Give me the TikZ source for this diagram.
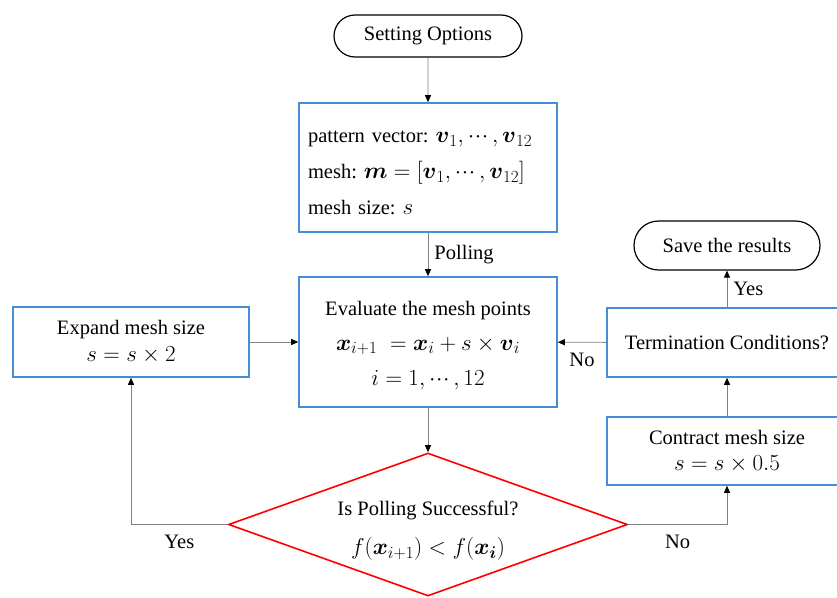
\RequirePackage{fix-cm}
\documentclass[tikz,border=0pt]{standalone}
\usepackage{amsmath}
\usepackage{fontspec}
\setmainfont{Liberation Serif}
\usetikzlibrary{arrows.meta,shapes.misc,shapes.geometric}
\definecolor{boxblue}{RGB}{70,140,215}
\definecolor{linegray}{RGB}{128,128,128}
\DeclareMathSizes{20.5}{23}{17}{13}
\newcommand{\bv}{\boldsymbol{v}}
\newcommand{\bx}{\boldsymbol{x}}
\newcommand{\tightdots}{\mathinner{\cdotp\mkern-2.5mu\cdotp\mkern-2.5mu\cdotp}}
\frenchspacing
\begin{document}
\begin{tikzpicture}[x=1pt,y=-1pt,
  every node/.style={font=\fontsize{20.5}{25}\selectfont},
  term/.style={rounded rectangle, draw=black, line width=1.2pt, inner sep=0pt},
  bluebox/.style={rectangle, draw=boxblue, line width=1.6pt, inner sep=0pt},
  decision/.style={diamond, draw=red, line width=1.6pt, inner sep=0pt,
    minimum width=399, minimum height=143},
  conn/.style={draw=linegray, line width=0.9pt,
    -{Triangle[length=7pt,width=6pt,color=black]}},
  lbl/.style={inner sep=6pt},
  lblb/.style={inner sep=10pt}]
\useasboundingbox (0,0) rectangle (837,597);

% terminals
\node[term, minimum width=188, minimum height=42] (start) at (428,36) {Setting Options};
\node[term, minimum width=186, minimum height=49] (save) at (727,245.5) {Save the results};

% option box
\node[bluebox, minimum height=129, text width=240, align=left, inner xsep=9pt,
  font=\fontsize{20.5}{36}\selectfont] (opts) at (428,167.5)
  {\rule{0pt}{23pt}pattern vector: $\bv_1,\tightdots,\bv_{12}$\\
   mesh: $\boldsymbol{m}=[\bv_1,\tightdots,\bv_{12}]$\\
   mesh size: $s$};

% evaluation box
\node[bluebox, minimum width=258, minimum height=130, align=center,
  font=\fontsize{20.5}{35}\selectfont] (eval) at (428,342)
  {\rule{0pt}{21pt}Evaluate the mesh points\\
   $\bx_{i+1}\;=\bx_i+s\times\bv_i$\\
   $i=1,\tightdots,12$};

% mesh size update boxes
\node[bluebox, minimum width=236, minimum height=70, align=center,
  font=\fontsize{20.5}{27}\selectfont] (expand) at (131,342)
  {Expand mesh size\\ $s=s\times 2$};
\node[bluebox, minimum width=240, minimum height=69, align=center] (termc) at (727,342.5)
  {Termination Conditions?};
\node[bluebox, minimum width=240, minimum height=68, align=center,
  font=\fontsize{20.5}{26}\selectfont] (contract) at (727,451)
  {Contract mesh size\\ $s=s\times 0.5$};

% decision
\node[decision] (poll) at (428,524.5) {};
\node[align=center, font=\fontsize{20.5}{39}\selectfont] (polltext) at (428,531)
  {Is Polling Successful?\\ $f(\bx_{i+1})<f(\bx_{\boldsymbol{i}})$};

% connectors
\draw[conn] (start) -- (opts);
\draw[conn] (opts) -- node[right, lbl] {Polling} (eval);
\draw[conn] (eval) -- (poll.north);
\draw[conn] (poll.west) -| node[pos=0.25, below, lblb] {Yes} (expand.south);
\draw[conn] (poll.east) -| node[pos=0.25, below, lblb] {No} (contract.south);
\draw[conn] (expand) -- (eval);
\draw[conn] (contract) -- (termc);
\draw[conn] (termc) -- node[right, lbl] {Yes} (save);
\draw[conn] (termc) -- node[below, lblb] {No} (eval);
\end{tikzpicture}
\end{document}
